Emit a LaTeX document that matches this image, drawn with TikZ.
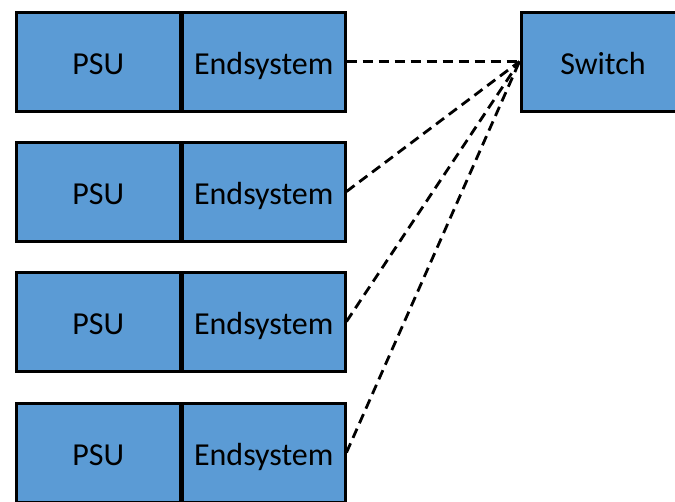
\documentclass[tikz,border=0pt]{standalone}
\usepackage{fontspec}
\setmainfont{Carlito}
\definecolor{boxblue}{HTML}{5B9BD5}
\begin{document}
\begin{tikzpicture}[x=1pt,y=-1pt,
  blk/.style={draw=black, line width=3pt, fill=boxblue, anchor=north west,
    minimum height=99pt, inner sep=0pt, text height=26pt, text depth=0pt,
    font=\fontsize{32}{38}\selectfont},
  psu/.style={blk, minimum width=164.5pt},
  endsys/.style={blk, minimum width=162.5pt},
  link/.style={draw=black, line width=2.8pt, dash pattern=on 10pt off 6pt}]
\path[use as bounding box] (0,0) rectangle (675,501);
\clip (0,0) rectangle (675,501);

% power supply + end system pairs
\foreach \i/\y in {1/10.5, 2/140.5, 3/270.5, 4/401.5} {
  \node[psu] (p\i) at (14.5,\y) {PSU};
  \node[endsys] (e\i) at (181,\y) {Endsystem};
}

% switch
\node[blk, minimum width=164pt] (sw) at (519.5,10.5) {Switch};

% links
\foreach \i in {1,...,4} {
  \draw[link] (e\i.east) -- (sw.west);
}
\end{tikzpicture}
\end{document}
